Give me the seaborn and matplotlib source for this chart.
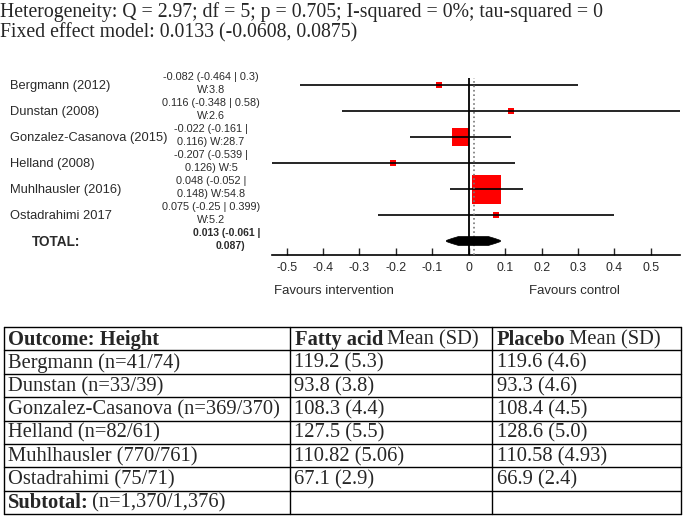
import numpy as np
import matplotlib.pyplot as plt
import seaborn as sns
from matplotlib.patches import Polygon

# ---- forest plot data ----
studies = ["Bergmann (2012)", "Dunstan (2008)", "Gonzalez-Casanova (2015)",
           "Helland (2008)", "Muhlhausler (2016)", "Ostadrahimi 2017"]
est = [-0.082, 0.116, -0.022, -0.207, 0.048, 0.075]
ci_lo = [-0.464, -0.348, -0.161, -0.539, -0.052, -0.25]
ci_hi = [0.3, 0.58, 0.116, 0.126, 0.148, 0.399]
weights = [3.8, 2.6, 28.7, 5, 54.8, 5.2]
effect_labels = ["-0.082 (-0.464 | 0.3)\nW:3.8",
                 "0.116 (-0.348 | 0.58)\nW:2.6",
                 "-0.022 (-0.161 |\n0.116) W:28.7",
                 "-0.207 (-0.539 |\n0.126) W:5",
                 "0.048 (-0.052 |\n0.148) W:54.8",
                 "0.075 (-0.25 | 0.399)\nW:5.2"]
total_est, total_lo, total_hi = 0.013, -0.061, 0.087
total_label = "0.013 (-0.061 |\n0.087)"
fixed_est = 0.0133
xticks = [-0.5, -0.4, -0.3, -0.2, -0.1, 0, 0.1, 0.2, 0.3, 0.4, 0.5]
xtick_labels = ["-0.5", "-0.4", "-0.3", "-0.2", "-0.1", "0", "0.1", "0.2", "0.3", "0.4", "0.5"]

heterogeneity = "Heterogeneity: Q = 2.97; df = 5; p = 0.705; I-squared = 0%; tau-squared = 0"
fixed_text = "Fixed effect model: 0.0133 (-0.0608, 0.0875)"

# ---- table data ----
table_studies = ["Bergmann (n=41/74)", "Dunstan (n=33/39)", "Gonzalez-Casanova (n=369/370)",
                 "Helland (n=82/61)", "Muhlhausler (770/761)", "Ostadrahimi (75/71)"]
fatty_acid = ["119.2 (5.3)", "93.8 (3.8)", "108.3 (4.4)", "127.5 (5.5)", "110.82 (5.06)", "67.1 (2.9)"]
placebo = ["119.6 (4.6)", "93.3 (4.6)", "108.4 (4.5)", "128.6 (5.0)", "110.58 (4.93)", "66.9 (2.4)"]
subtotal_n = " (n=1,370/1,376)"

sns.set_style("white")
plt.rcParams["font.family"] = ["Liberation Sans", "DejaVu Sans"]
serif = ["Liberation Serif", "DejaVu Serif"]
txt_col = "#2a2a2a"

W, H = 685, 516
fig = plt.figure(figsize=(6.85, 5.16), dpi=100)

# background axes in pixel coordinates
bg = fig.add_axes([0, 0, 1, 1])
bg.set_xlim(0, W)
bg.set_ylim(H, 0)
bg.axis("off")

bg.text(0, 12, heterogeneity, family=serif, fontsize=14.2, va="center")
bg.text(0, 33, fixed_text, family=serif, fontsize=14.2, va="center")

row_y0, row_dy = 85, 26
for i, (name, lab) in enumerate(zip(studies, effect_labels)):
    y = row_y0 + row_dy * i
    bg.text(10, y + 1, name, fontsize=9.3, color=txt_col, va="center")
    l1, l2 = lab.split("\n")
    bg.text(211, y - 8, l1, fontsize=7.8, color=txt_col, ha="center", va="center")
    bg.text(211, y + 5, l2, fontsize=7.8, color=txt_col, ha="center", va="center")

ty = row_y0 + row_dy * len(studies)
bg.text(32, ty + 1, "TOTAL:", fontsize=9.8, weight="bold", color=txt_col, va="center")
t1, t2 = total_label.split("\n")
bg.text(227, ty - 8, t1, fontsize=7.5, weight="bold", color=txt_col, ha="center", va="center")
bg.text(230, ty + 5, t2, fontsize=7.5, weight="bold", color=txt_col, ha="center", va="center")

bg.text(274, 291, "Favours intervention", fontsize=9.5, color=txt_col, va="center")
bg.text(529, 291, "Favours control", fontsize=9.5, color=txt_col, va="center")

# ---- forest axes ----
ax_l, ax_r, ax_t, ax_b = 272, 680, 78, 255
ax = fig.add_axes([ax_l / W, 1 - ax_b / H, (ax_r - ax_l) / W, (ax_b - ax_t) / H])
ax.patch.set_alpha(0)
ax.set_xlim(-0.54, 0.58)
ax.set_ylim((ax_b - row_y0) / row_dy, (ax_t - row_y0) / row_dy)

rows = np.arange(len(studies))
side_px = np.maximum(6, 29 * (np.array(weights) / max(weights)) ** 0.8)
sizes = (side_px * 0.72) ** 2
sns.scatterplot(x=est, y=rows, s=sizes, marker="s", color="red", linewidth=0,
                ax=ax, zorder=2, legend=False)
ax.hlines(rows, ci_lo, ci_hi, color="black", lw=1.2, zorder=3)
ax.axvline(0, color="black", lw=1.3, zorder=4)
ax.axvline(fixed_est, color="#777777", ls=":", lw=1.2, zorder=4)

# pooled estimate: stepped diamond
ty_r = len(studies)
hl, hr = total_est - total_lo, total_hi - total_est
steps = [(1.0, 0.6), (0.8, 2.5), (0.55, 4.5)]
top = [(total_est - hl * f, ty_r - hp / row_dy) for f, hp in steps] + \
      [(total_est + hr * f, ty_r - hp / row_dy) for f, hp in steps[::-1]]
bottom = [(x, 2 * ty_r - y) for x, y in top[::-1]]
ax.add_patch(Polygon(top + bottom, closed=True, color="black", lw=0.5, zorder=5))

for s in ["top", "right", "left"]:
    ax.spines[s].set_visible(False)
ax.spines["bottom"].set_color("black")
ax.spines["bottom"].set_linewidth(1.2)
ax.set_yticks([])
ax.set_xticks(xticks)
ax.set_xticklabels(xtick_labels)
ax.tick_params(axis="x", direction="in", length=5, width=1, pad=5,
               labelsize=8.9, labelcolor=txt_col, bottom=True)

# ---- table ----
col_x = [4, 290, 492, 681]
tab_top, tab_bot = 327, 514
n_rows = len(table_studies) + 2
rh = (tab_bot - tab_top) / n_rows
for r in range(n_rows + 1):
    bg.plot([col_x[0], col_x[-1]], [tab_top + r * rh] * 2, color="black", lw=1)
for x in col_x:
    bg.plot([x, x], [tab_top, tab_bot], color="black", lw=1)

fs = 14.8
def cell_y(r):
    return tab_top + rh * (r + 0.5) + 1

bg.text(col_x[0] + 4, cell_y(0), "Outcome: Height", family=serif, fontsize=fs,
        weight="bold", va="center")
for cx, bold in [(col_x[1], "Fatty acid"), (col_x[2], "Placebo")]:
    tb = bg.text(cx + 5, cell_y(0), bold, family=serif, fontsize=fs, weight="bold", va="center")
    bg.annotate(" Mean (SD)", xy=(1, 0.5), xycoords=tb, xytext=(-1, 0),
                textcoords="offset points", family=serif, fontsize=fs,
                va="center", ha="left")

for i in range(len(table_studies)):
    y = cell_y(i + 1)
    bg.text(col_x[0] + 4, y, table_studies[i], family=serif, fontsize=fs, va="center")
    bg.text(col_x[1] + 4, y, fatty_acid[i], family=serif, fontsize=fs, va="center")
    bg.text(col_x[2] + 5, y, placebo[i], family=serif, fontsize=fs, va="center")

ts = bg.text(col_x[0] + 4, cell_y(n_rows - 1), "Subtotal:", family=serif, fontsize=fs,
             weight="bold", va="center")
bg.annotate(subtotal_n, xy=(1, 0.5), xycoords=ts, xytext=(-1, 0),
            textcoords="offset points", family=serif, fontsize=fs,
            va="center", ha="left")

fig.savefig("out.png", dpi=100)
